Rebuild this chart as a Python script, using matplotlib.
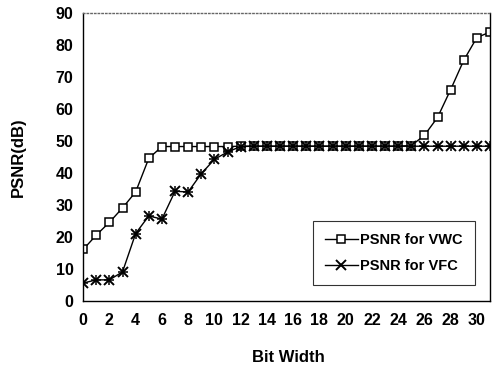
import numpy as np
import matplotlib.pyplot as plt

plt.rcParams['font.family'] = ['Liberation Sans', 'DejaVu Sans']

bits = list(range(0, 32))
psnr_vwc = [16, 20.5, 24.5, 29, 34, 44.5, 48.2, 48.2, 48.2, 48.2, 48.2, 48.2,
            48.3, 48.3, 48.3, 48.3, 48.3, 48.3, 48.3, 48.3, 48.3, 48.3, 48.3, 48.3,
            48.3, 48.5, 51.7, 57.3, 66, 75.2, 82.3, 84]
psnr_vfc = [5.5, 6.5, 6.5, 9, 21, 26.5, 25.5, 34.2, 34, 39.7, 44.2, 46.5,
            48.2, 48.3, 48.3, 48.3, 48.3, 48.3, 48.3, 48.3, 48.3, 48.3, 48.3, 48.3,
            48.3, 48.3, 48.3, 48.3, 48.3, 48.3, 48.3, 48.3]
xticks = list(range(0, 31, 2))
yticks = list(range(0, 91, 10))

fig = plt.figure(figsize=(4.92, 3.68), dpi=100)
ax = fig.add_axes([0.169, 0.183, 0.827, 0.782])

ax.plot(bits, psnr_vwc, color='black', lw=1.0, marker='s', ms=5.5,
        mfc='white', mec='black', mew=1.1, label='PSNR for VWC')
ax.plot(bits, psnr_vfc, color='black', lw=1.0, marker='x', ms=6.5,
        mew=1.4, label='PSNR for VFC')
ax.plot(bits, psnr_vfc, color='none', marker='+', ms=6.5, mec='black', mew=1.1)

ax.set_xlim(0, 31)
ax.set_ylim(0, 90)
ax.set_xticks(xticks)
ax.set_yticks(yticks)
ax.tick_params(axis='both', length=0, labelsize=11.5)
ax.tick_params(axis='x', pad=9)
ax.tick_params(axis='y', pad=7)
for lab in ax.get_xticklabels() + ax.get_yticklabels():
    lab.set_fontweight('bold')
for s in ax.spines.values():
    s.set_color('black')
    s.set_linewidth(1.0)
ax.spines['top'].set_color('#666666')
ax.spines['top'].set_linestyle(':')

fig.text(288 / 492, 1 - 357 / 368, 'Bit Width', ha='center', va='center',
         fontsize=12, fontweight='bold')
fig.text(18 / 492, 1 - 157 / 368, 'PSNR(dB)', ha='center', va='center',
         rotation=90, fontsize=12, fontweight='bold')

leg = ax.legend(loc='upper left', bbox_to_anchor=(0.565, 0.277), borderaxespad=0,
                frameon=True, fancybox=False, edgecolor='black',
                handlelength=2.25, handletextpad=0.2, labelspacing=0.85,
                borderpad=0.8, prop={'weight': 'bold', 'size': 10.5})
leg.get_frame().set_linewidth(0.8)

fig.savefig('out.png', dpi=100)
